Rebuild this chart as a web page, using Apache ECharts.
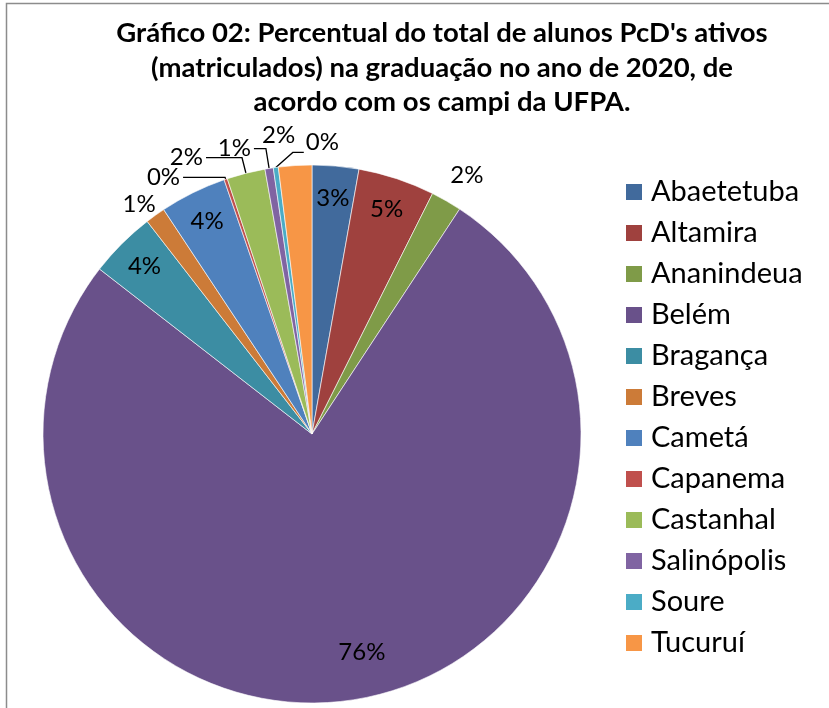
<!DOCTYPE html>
<html>
<head>
<meta charset="utf-8">
<script src="https://cdn.jsdelivr.net/npm/echarts@6/dist/echarts.min.js"></script>
<style>
html,body{margin:0;padding:0;background:#fff;}
#c{width:829px;height:708px;}
</style>
</head>
<body>
<div id="c"></div>
<script>
var titleLines = [
  "Gráfico 02: Percentual do total de alunos PcD's ativos",
  "(matriculados) na graduação no ano de 2020, de",
  "acordo com os campi da UFPA."
];
var categories = ["Abaetetuba","Altamira","Ananindeua","Belém","Bragança","Breves","Cametá","Capanema","Castanhal","Salinópolis","Soure","Tucuruí"];
var values = [2.8, 4.6, 1.85, 76.3, 4.0, 1.2, 4.0, 0.2, 2.3, 0.5, 0.3, 2.0];
var colors = ["#416A9C","#9F413E","#7F9B48","#69518A","#3C8DA3","#CC7B38","#4F81BD","#C0504D","#9BBB59","#8064A2","#4BACC6","#F79646"];
var insideLabel = [true,true,false,true,true,false,true,false,false,false,false,false];
var lineLen  = [8, 0, 20, 0, 0, 8, 0, 2, 16, 20, 14, 30];
var lineLen2 = [0, 0, 0, 0, 0, 0, 0, 42, 36, 12, 10, 0];
var showLine = [false,false,false,false,false,false,false,true,true,true,true,false];

var FONT = 'Lato';
var fmt = function(p){ return Math.round(p.percent) + '%'; };

var mainData = categories.map(function(n,i){
  return {
    name: n, value: values[i],
    itemStyle: {color: colors[i]},
    label: {show: !insideLabel[i]},
    labelLine: {show: showLine[i], length: lineLen[i], length2: lineLen2[i]}
  };
});
var overlayData = categories.map(function(n,i){
  return {
    name: n, value: values[i],
    itemStyle: {color: 'rgba(0,0,0,0)'},
    label: {show: insideLabel[i]}
  };
});

var chart = echarts.init(document.getElementById('c'), null, {renderer:'canvas'});
chart.setOption({
  animation: false,
  color: colors,
  graphic: [{
    type: 'rect', shape: {x: 6.5, y: 3.5, width: 900, height: 800},
    style: {fill: 'none', stroke: '#8c8c8c', lineWidth: 1.5}, silent: true, z: 0
  }],
  title: {
    text: titleLines.join('\n'),
    left: 442, top: 16, textAlign: 'center', padding: 0,
    textStyle: {fontFamily: FONT, fontWeight: 'bold', fontSize: 27.5, lineHeight: 34.5, color: '#000'}
  },
  legend: {
    orient: 'vertical', left: 624, top: 177.5, padding: 0,
    data: categories,
    itemWidth: 18, itemHeight: 18, itemGap: 12,
    icon: 'rect',
    textStyle: {fontFamily: FONT, fontSize: 29, lineHeight: 29, color: '#000', padding: [0,0,0,3]}
  },
  series: [{
    type: 'pie', center: [312, 434], radius: 269, startAngle: 90, clockwise: true,
    avoidLabelOverlap: false,
    data: mainData,
    itemStyle: {borderColor: '#ffffff', borderWidth: 0.6},
    label: {position: 'outside', formatter: fmt, fontFamily: FONT, fontSize: 24, color: '#000', distanceToLabelLine: 3},
    labelLine: {lineStyle: {color: '#000', width: 1.3}, smooth: false},
    labelLayout: function(p){
      if (p.dataIndex === 10) {
        var s = p.labelLinePoints[0];
        return {dx: 78, dy: -11, hideOverlap: false,
          labelLinePoints: [[s[0], s[1]], [s[0] + 17, s[1] - 15], [s[0] + 28, s[1] - 15]]};
      }
      if (p.dataIndex === 11) { return {dx: 5, hideOverlap: false}; }
      if (p.dataIndex === 2) { return {dx: -9, dy: -8, hideOverlap: false}; }
      if (p.dataIndex === 5) { return {dx: 8, dy: -5, hideOverlap: false}; }
      return {hideOverlap: false};
    },
    emphasis: {disabled: true}
  }, {
    type: 'pie', center: [312, 434], radius: [199, 269], startAngle: 90, clockwise: true,
    avoidLabelOverlap: false, silent: true,
    data: overlayData,
    label: {position: 'inside', formatter: fmt, fontFamily: FONT, fontSize: 24, color: '#000'},
    labelLine: {show: false},
    labelLayout: function(p){
      if (p.dataIndex === 3) { return {dx: 11, dy: -16, hideOverlap: false}; }
      return {hideOverlap: false};
    },
    emphasis: {disabled: true}
  }]
});
</script>
</body>
</html>
